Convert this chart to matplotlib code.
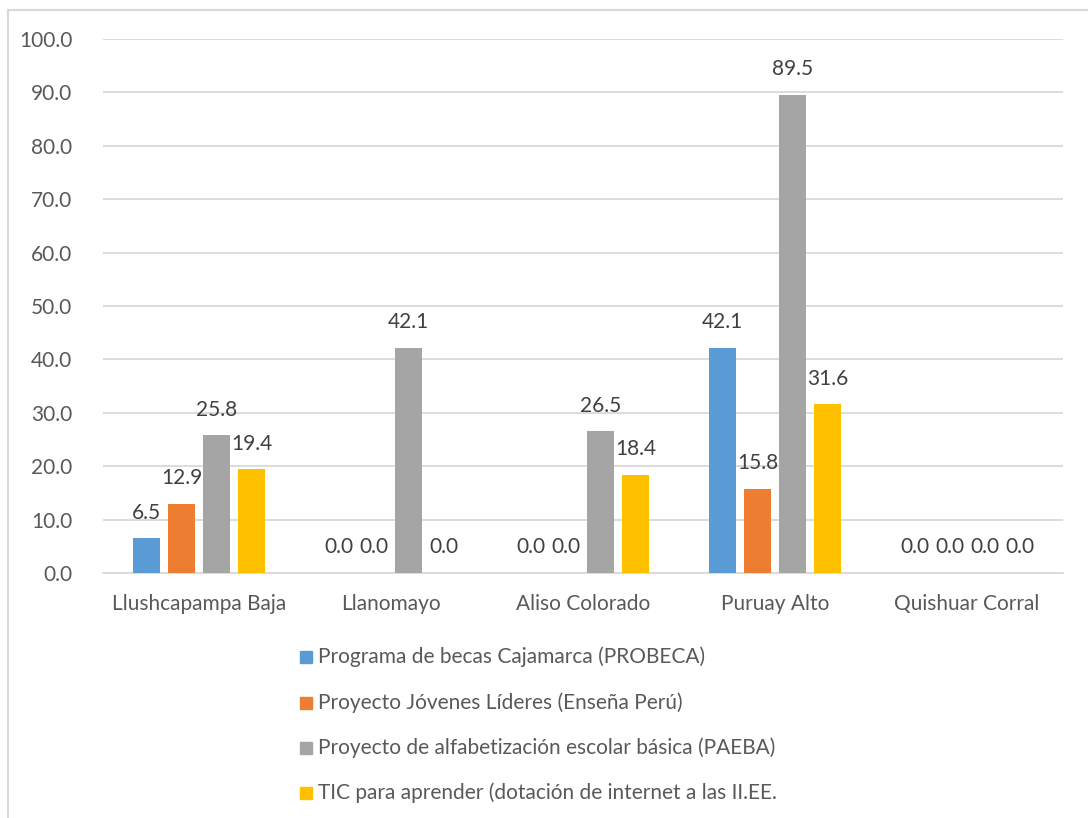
import matplotlib
matplotlib.use("Agg")
import matplotlib.pyplot as plt
import numpy as np
from matplotlib.patches import Rectangle
from matplotlib.lines import Line2D

categories = ["Llushcapampa Baja", "Llanomayo", "Aliso Colorado", "Puruay Alto", "Quishuar Corral"]
series_names = [
    "Programa de becas Cajamarca (PROBECA)",
    "Proyecto Jóvenes Líderes (Enseña Perú)",
    "Proyecto de alfabetización escolar básica (PAEBA)",
    "TIC para aprender (dotación de internet a las II.EE.",
]
probeca = [6.5, 0.0, 0.0, 42.1, 0.0]
jovenes = [12.9, 0.0, 0.0, 15.8, 0.0]
paeba = [25.8, 42.1, 26.5, 89.5, 0.0]
tic = [19.4, 0.0, 18.4, 31.6, 0.0]
series_values = [probeca, jovenes, paeba, tic]
colors = ["#5B9BD5", "#ED7D31", "#A5A5A5", "#FFC000"]
yticks = [0, 10, 20, 30, 40, 50, 60, 70, 80, 90, 100]

plt.rcParams['font.family'] = ['Lato', 'DejaVu Sans']

W, H = 1088, 818
fig = plt.figure(figsize=(W / 100, H / 100), dpi=100)
ax = fig.add_axes([103 / W, 1 - 573 / H, 960 / W, 534 / H])

x = np.arange(len(categories))
bar_w = 27 / 192
step = 35 / 192
for i, (vals, c) in enumerate(zip(series_values, colors)):
    pos = x + (i - 1.5) * step
    ax.bar(pos, vals, width=bar_w, color=c, zorder=3)
    for xp, v in zip(pos, vals):
        ax.annotate(f"{v:.1f}", (xp, v), xytext=(0, 18.5), textcoords="offset points",
                    ha="center", va="center", fontsize=15, color="#404040", zorder=4)

ax.set_xlim(-0.5, len(categories) - 0.5)
ax.set_ylim(0, 100)
ax.set_yticks(yticks)
ax.set_yticklabels([f"{t:.1f}" for t in yticks])
ax.set_xticks(x)
ax.set_xticklabels(categories)
ax.tick_params(axis="both", length=0, labelsize=15, labelcolor="#595959")
ax.tick_params(axis="y", pad=22)
ax.tick_params(axis="x", pad=15)
ax.grid(axis="y", color="#D9D9D9", linewidth=1.3, zorder=0)
for s in ["top", "right", "left"]:
    ax.spines[s].set_visible(False)
ax.spines["bottom"].set_color("#D9D9D9")
ax.spines["bottom"].set_linewidth(1.3)

# chart border (partially visible)
fig.add_artist(Line2D([8 / W, 8 / W], [0, 1 - 10 / H], color="#D9D9D9", linewidth=1.5, transform=fig.transFigure))
fig.add_artist(Line2D([8 / W, 1], [1 - 10 / H, 1 - 10 / H], color="#D9D9D9", linewidth=1.5, transform=fig.transFigure))

# legend
leg_y = [657, 703, 748, 793]
for name, c, yy in zip(series_names, colors, leg_y):
    fig.add_artist(Rectangle((300 / W, 1 - (yy + 6) / H), 12 / W, 12 / H, color=c, transform=fig.transFigure))
    fig.text(318 / W, 1 - yy / H, name, fontsize=15, color="#595959", va="center", ha="left")

fig.savefig("out.png", dpi=100)
